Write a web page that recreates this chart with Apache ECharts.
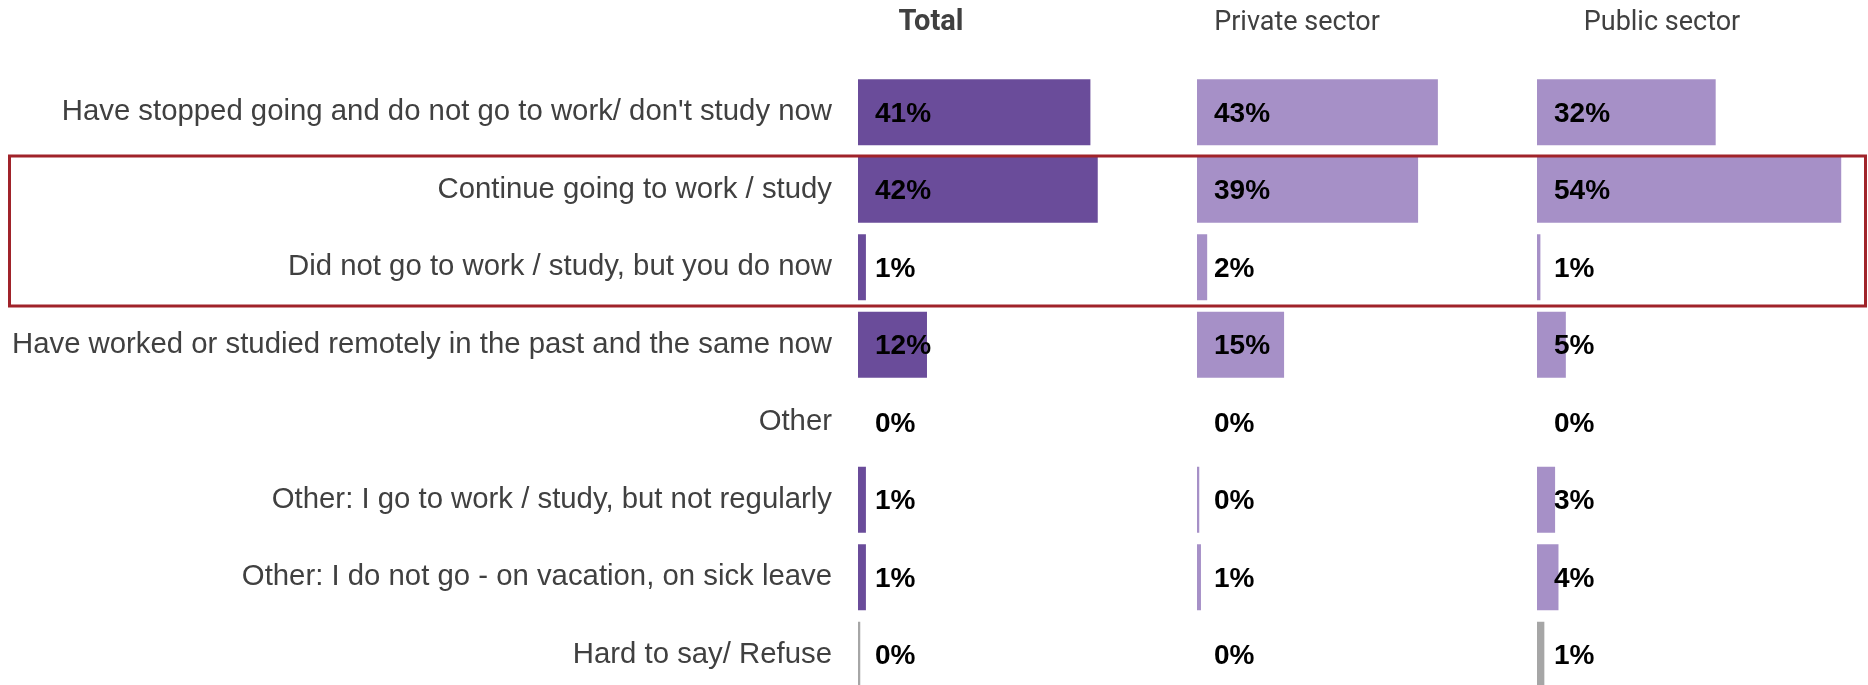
<!DOCTYPE html>
<html>
<head>
<meta charset="utf-8">
<script src="https://cdn.jsdelivr.net/npm/echarts@6/dist/echarts.min.js"></script>
<style>
  html, body { margin: 0; padding: 0; background: #fff; overflow: hidden; }
  #chart { width: 1868px; height: 700px; }
</style>
</head>
<body>
<div id="chart"></div>
<script>
// answer options, top to bottom
var categories = [
  "Have stopped going and do not go to work/ don't study now",
  'Continue going to work / study',
  'Did not go to work / study, but you do now',
  'Have worked or studied remotely in the past and the same now',
  'Other',
  'Other: I go to work / study, but not regularly',
  'Other: I do not go - on vacation, on sick leave',
  'Hard to say/ Refuse'
];
var columns = ['Total', 'Private sector', 'Public sector'];

// shares in %
var totalValues   = [41.1, 42.4, 1.4, 12.2, 0, 1.4, 1.4, 0.4];
var privateValues = [42.6, 39.1, 1.8, 15.4, 0, 0.4, 0.7, 0];
var publicValues  = [31.6, 53.8, 0.6, 5.1, 0, 3.2, 3.8, 1.3];

var darkPurple = '#6a4c9a';
var lightPurple = '#a690c7';
var grey = '#a6a6a6';

// chart div is a bit taller than the window so the last row gets cut like the original
var chart = echarts.init(document.getElementById('chart'));

var gridLefts = [858, 1197, 1537];
var headerX = [931, 1297, 1662];

function makeData(vals, color) {
  return vals.map(function (v, i) {
    return {
      value: v,
      itemStyle: { color: i === vals.length - 1 ? grey : color }
    };
  });
}

var grids = [], xAxes = [], yAxes = [], series = [];
[totalValues, privateValues, publicValues].forEach(function (vals, k) {
  grids.push({ left: gridLefts[k], top: 73.5, width: 311, height: 620 });
  xAxes.push({
    gridIndex: k, type: 'value', min: 0, max: 55, show: false
  });
  yAxes.push({
    gridIndex: k,
    type: 'category',
    inverse: true,
    data: categories,
    axisLine: { show: false },
    axisTick: { show: false },
    splitLine: { show: false },
    axisLabel: {
      show: k === 0,
      margin: 26,
      color: '#404040',
      fontSize: 29.33,
      fontFamily: '"Liberation Sans", Arial, sans-serif'
    }
  });
  series.push({
    name: columns[k],
    type: 'bar',
    xAxisIndex: k,
    yAxisIndex: k,
    barWidth: 66,
    data: makeData(vals, k === 0 ? darkPurple : lightPurple),
    label: {
      show: true,
      position: 'insideLeft',
      distance: 17,
      offset: [0, 2],
      color: '#000',
      fontSize: 28,
      fontWeight: 'bold',
      fontFamily: '"Liberation Sans", Arial, sans-serif',
      formatter: function (p) { return Math.round(p.value) + '%'; }
    },
    silent: true
  });
});

var graphics = columns.map(function (name, k) {
  return {
    type: 'text',
    x: headerX[k],
    y: 23,
    style: {
      text: name,
      align: 'center',
      verticalAlign: 'middle',
      fill: '#404040',
      fontSize: k === 0 ? 29 : 27,
      fontWeight: k === 0 ? 'bold' : 'normal',
      fontFamily: 'Roboto, sans-serif'
    }
  };
});
// highlight box round rows 2-3
graphics.push({
  type: 'rect',
  shape: { x: 9.5, y: 156, width: 1856, height: 150 },
  style: { fill: 'none', stroke: '#a0232a', lineWidth: 3 },
  z: 10
});

chart.setOption({
  animation: false,
  grid: grids,
  xAxis: xAxes,
  yAxis: yAxes,
  series: series,
  graphic: graphics
});
</script>
</body>
</html>
